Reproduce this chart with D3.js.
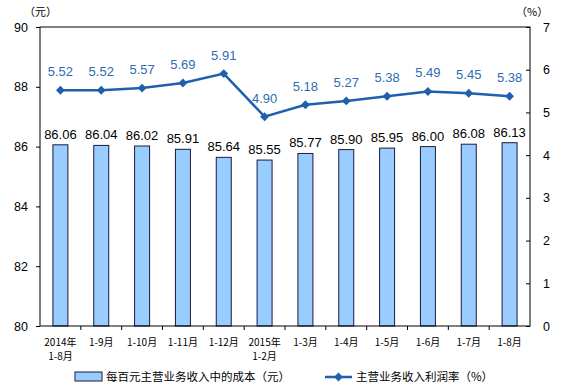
<!DOCTYPE html>
<html>
<head>
<meta charset="utf-8">
<script src="https://cdn.jsdelivr.net/npm/d3@7"></script>
<style>
  body { margin: 0; background: #fff; }
  svg { font-family: "Liberation Sans", Arial, sans-serif; }
  .cjk { font-family: "Noto Sans CJK SC", sans-serif; }
</style>
</head>
<body>
<svg width="564" height="389"></svg>
<script>
// 数据
const categories = ["2014年\n1-8月", "1-9月", "1-10月", "1-11月", "1-12月", "2015年\n1-2月",
  "1-3月", "1-4月", "1-5月", "1-6月", "1-7月", "1-8月"]
const costValues = [86.06, 86.04, 86.02, 85.91, 85.64, 85.55, 85.77, 85.90, 85.95, 86.00, 86.08, 86.13]
const profitRate = [5.52, 5.52, 5.57, 5.69, 5.91, 4.90, 5.18, 5.27, 5.38, 5.49, 5.45, 5.38]
const leftTicks = [80, 82, 84, 86, 88, 90]
const rightTicks = [0, 1, 2, 3, 4, 5, 6, 7]

// 尺寸
const marginLeft = 40
const marginTop = 27
const chartWidth = 490
const chartHeight = 299

const svg = d3.select("svg")
const g = svg.append("g").attr("transform", `translate(${marginLeft}, ${marginTop})`)

// 比例尺
const xScale = d3.scaleBand(categories, [0, chartWidth])
const yLeft = d3.scaleLinear([80, 90], [chartHeight, 0])
const yRight = d3.scaleLinear([0, 7], [chartHeight, 0])

// 柱子
g.selectAll(".bar")
  .data(costValues)
  .join("rect")
    .attr("x", (d, i) => xScale(categories[i]) + xScale.bandwidth() / 2 - 7.5)
    .attr("y", d => yLeft(d))
    .attr("width", 15)
    .attr("height", d => chartHeight - yLeft(d))
    .attr("fill", "#99CCFF")
    .attr("stroke", "#1a1a40")
    .attr("stroke-width", 1)

g.selectAll(".bar-label")
  .data(costValues)
  .join("text")
    .attr("x", (d, i) => xScale(categories[i]) + xScale.bandwidth() / 2)
    .attr("y", d => yLeft(d) - 6)
    .attr("text-anchor", "middle")
    .attr("font-size", "13px")
    .attr("fill", "#000")
    .text(d => d.toFixed(2))

// 边框
g.append("rect")
  .attr("width", chartWidth).attr("height", chartHeight)
  .attr("fill", "none").attr("stroke", "#000").attr("stroke-width", 1)

// 左轴
const leftAxis = g.append("g")
  .call(d3.axisLeft(yLeft).tickValues(leftTicks).tickSize(4).tickPadding(8))
leftAxis.select(".domain").remove()
leftAxis.selectAll("text").attr("font-size", "12.5px").attr("font-family", "Liberation Sans, Arial")

// 右轴
const rightAxis = g.append("g")
  .attr("transform", `translate(${chartWidth}, 0)`)
  .call(d3.axisRight(yRight).tickValues(rightTicks).tickFormat(d3.format("d")).tickSize(4).tickPadding(9))
rightAxis.select(".domain").remove()
rightAxis.selectAll("line").attr("x1", -4).attr("x2", 0)
rightAxis.selectAll("text").attr("font-size", "12.5px").attr("font-family", "Liberation Sans, Arial")

// X 轴刻度 (类别之间)
g.selectAll(".xtick")
  .data(categories.slice(1))
  .join("line")
    .attr("x1", d => xScale(d)).attr("x2", d => xScale(d))
    .attr("y1", chartHeight).attr("y2", chartHeight + 4)
    .attr("stroke", "#000")

const xLabels = g.selectAll(".xlabel")
  .data(categories)
  .join("text")
    .attr("class", "cjk")
    .attr("text-anchor", "middle")
    .attr("font-size", "10px")
    .attr("fill", "#000")
    .attr("transform", d => `translate(${xScale(d) + xScale.bandwidth() / 2}, ${chartHeight + 20})`)
xLabels.selectAll("tspan")
  .data(d => d.split("\n"))
  .join("tspan")
    .attr("x", 0)
    .attr("dy", (d, i) => i === 0 ? 0 : 14)
    .text(d => d)

// 折线
const line = d3.line()
  .x((d, i) => xScale(categories[i]) + xScale.bandwidth() / 2)
  .y(d => yRight(d))

g.append("path")
  .datum(profitRate)
  .attr("d", line)
  .attr("fill", "none")
  .attr("stroke", "#1F5FAD")
  .attr("stroke-width", 2.5)

const diamond = d3.symbol(d3.symbolDiamond2, 50)
g.selectAll(".dot")
  .data(profitRate)
  .join("path")
    .attr("d", diamond)
    .attr("transform", (d, i) => `translate(${xScale(categories[i]) + xScale.bandwidth() / 2}, ${yRight(d)})`)
    .attr("fill", "#1F5FAD")

g.selectAll(".line-label")
  .data(profitRate)
  .join("text")
    .attr("x", (d, i) => xScale(categories[i]) + xScale.bandwidth() / 2)
    .attr("y", d => yRight(d) - 14)
    .attr("text-anchor", "middle")
    .attr("font-size", "13px")
    .attr("fill", "#2E6DB0")
    .text(d => d.toFixed(2))

// 单位
svg.append("text").attr("class", "cjk").attr("x", 24).attr("y", 16)
  .attr("font-size", "11px").text("（元）")
svg.append("text").attr("class", "cjk").attr("x", 516).attr("y", 16)
  .attr("font-size", "11px").text("（%）")

// 图例
const legend = svg.append("g").attr("transform", "translate(0, 377)")
legend.append("rect")
  .attr("x", 75).attr("y", -5).attr("width", 27).attr("height", 9)
  .attr("fill", "#99CCFF").attr("stroke", "#1a1a40")
legend.append("text").attr("class", "cjk").attr("x", 106).attr("y", 4)
  .attr("font-size", "11.5px").text("每百元主营业务收入中的成本（元）")
legend.append("line")
  .attr("x1", 325).attr("x2", 352).attr("y1", 0).attr("y2", 0)
  .attr("stroke", "#1F5FAD").attr("stroke-width", 2.5)
legend.append("path")
  .attr("d", diamond)
  .attr("transform", "translate(338.5, 0)")
  .attr("fill", "#1F5FAD")
legend.append("text").attr("class", "cjk").attr("x", 356).attr("y", 4)
  .attr("font-size", "11.5px").text("主营业务收入利润率（%）")
</script>
</body>
</html>
